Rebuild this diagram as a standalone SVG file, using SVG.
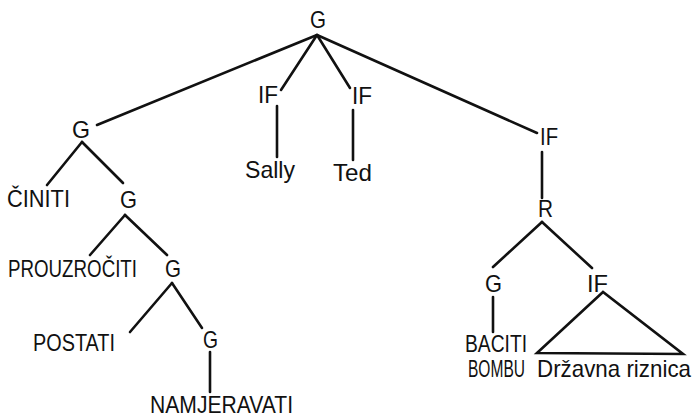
<svg xmlns="http://www.w3.org/2000/svg" width="693" height="417" viewBox="0 0 693 417">
  <style>
    text { font-family: "Liberation Sans", "DejaVu Sans", sans-serif; font-size: 24px; fill: #111; }
    .edge { stroke: #111; stroke-width: 2.6; stroke-linecap: round; fill: none; }
  </style>
  <rect width="693" height="417" fill="#fff"/>

  <!-- tree edges -->
  <g id="connectors">
    <line class="edge" x1="317" y1="35" x2="97" y2="125"/>
    <line class="edge" x1="317" y1="35" x2="281" y2="90"/>
    <line class="edge" x1="317" y1="35" x2="350" y2="88"/>
    <line class="edge" x1="317" y1="35" x2="537" y2="133"/>
    <line class="edge" x1="277" y1="106" x2="277" y2="157"/>
    <line class="edge" x1="353" y1="110" x2="353" y2="160"/>
    <line class="edge" x1="82" y1="142" x2="47" y2="185"/>
    <line class="edge" x1="82" y1="142" x2="123" y2="183"/>
    <line class="edge" x1="125" y1="215" x2="90" y2="255"/>
    <line class="edge" x1="125" y1="215" x2="167" y2="255"/>
    <line class="edge" x1="172" y1="283" x2="130" y2="332"/>
    <line class="edge" x1="172" y1="283" x2="202" y2="328"/>
    <line class="edge" x1="210" y1="352" x2="210" y2="392"/>
    <line class="edge" x1="542" y1="152" x2="542" y2="198"/>
    <line class="edge" x1="542" y1="222" x2="493" y2="267"/>
    <line class="edge" x1="542" y1="222" x2="592" y2="268"/>
    <line class="edge" x1="493" y1="297" x2="493" y2="332"/>
    <polygon class="edge" points="603,292 537,353 683,354"/>
  </g>

  <g id="root-g"><text x="310" y="28" textLength="16" lengthAdjust="spacingAndGlyphs">G</text></g>
  <g id="g-left"><text x="72" y="138" textLength="18" lengthAdjust="spacingAndGlyphs">G</text></g>
  <g id="if-sally"><text x="258" y="103" textLength="20" lengthAdjust="spacingAndGlyphs">IF</text></g>
  <g id="if-ted"><text x="352" y="104" textLength="20" lengthAdjust="spacingAndGlyphs">IF</text></g>
  <g id="if-right"><text x="540" y="145" textLength="18" lengthAdjust="spacingAndGlyphs">IF</text></g>
  <g id="sally"><text x="245" y="178" textLength="50" lengthAdjust="spacingAndGlyphs">Sally</text></g>
  <g id="ted"><text x="333" y="181" textLength="39" lengthAdjust="spacingAndGlyphs">Ted</text></g>
  <g id="ciniti"><text x="7" y="207" textLength="63" lengthAdjust="spacingAndGlyphs">ČINITI</text></g>
  <g id="g-2"><text x="120" y="208" textLength="17" lengthAdjust="spacingAndGlyphs">G</text></g>
  <g id="prouzrociti"><text x="8" y="277" textLength="129" lengthAdjust="spacingAndGlyphs">PROUZROČITI</text></g>
  <g id="g-3"><text x="165" y="277" textLength="16" lengthAdjust="spacingAndGlyphs">G</text></g>
  <g id="postati"><text x="33" y="351" textLength="82" lengthAdjust="spacingAndGlyphs">POSTATI</text></g>
  <g id="g-4"><text x="203" y="348" textLength="15" lengthAdjust="spacingAndGlyphs">G</text></g>
  <g id="namjeravati"><text x="150" y="413" textLength="143" lengthAdjust="spacingAndGlyphs">NAMJERAVATI</text></g>
  <g id="r"><text x="538" y="217" textLength="15" lengthAdjust="spacingAndGlyphs">R</text></g>
  <g id="g-r"><text x="485" y="292" textLength="17" lengthAdjust="spacingAndGlyphs">G</text></g>
  <g id="if-r"><text x="587" y="292" textLength="21" lengthAdjust="spacingAndGlyphs">IF</text></g>
  <g id="baciti-bombu">
    <text x="465" y="352" textLength="62" lengthAdjust="spacingAndGlyphs">BACITI</text>
    <text x="468" y="377" textLength="57" lengthAdjust="spacingAndGlyphs">BOMBU</text>
  </g>
  <g id="drzavna-riznica"><text x="537" y="377" textLength="154" lengthAdjust="spacingAndGlyphs">Državna riznica</text></g>
</svg>
